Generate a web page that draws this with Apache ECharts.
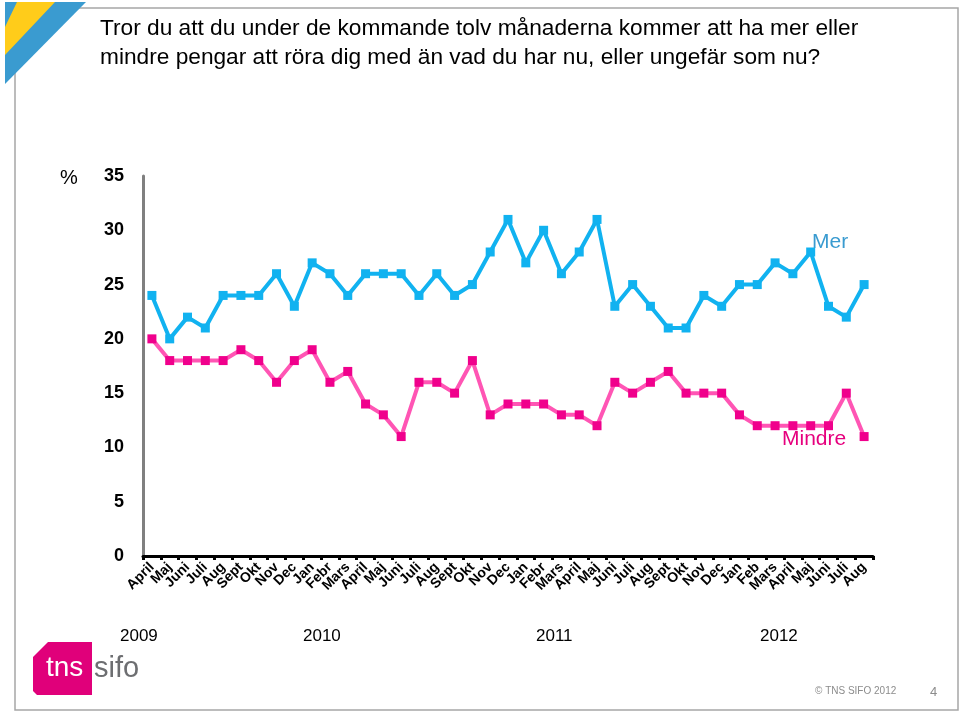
<!DOCTYPE html>
<html>
<head>
<meta charset="utf-8">
<script src="https://cdn.jsdelivr.net/npm/echarts@6/dist/echarts.min.js"></script>
<style>
  html, body { margin: 0; padding: 0; background: #fff; }
  #chart { width: 961px; height: 713px; }
</style>
</head>
<body>
<div id="chart"></div>
<script>
// months, April 2009 - Aug 2012
const months = [
  'April', 'Maj', 'Juni', 'Juli', 'Aug', 'Sept', 'Okt', 'Nov', 'Dec',
  'Jan', 'Febr', 'Mars', 'April', 'Maj', 'Juni', 'Juli', 'Aug', 'Sept', 'Okt', 'Nov', 'Dec',
  'Jan', 'Febr', 'Mars', 'April', 'Maj', 'Juni', 'Juli', 'Aug', 'Sept', 'Okt', 'Nov', 'Dec',
  'Jan', 'Feb', 'Mars', 'April', 'Maj', 'Juni', 'Juli', 'Aug'
]
const mer = [
  24, 20, 22, 21, 24, 24, 24, 26, 23,
  27, 26, 24, 26, 26, 26, 24, 26, 24, 25, 28, 31,
  27, 30, 26, 28, 31, 23, 25, 23, 21, 21, 24, 23,
  25, 25, 27, 26, 28, 23, 22, 25
]
const mindre = [
  20, 18, 18, 18, 18, 19, 18, 16, 18,
  19, 16, 17, 14, 13, 11, 16, 16, 15, 18, 13, 14,
  14, 14, 13, 13, 12, 16, 15, 16, 17, 15, 15, 15,
  13, 12, 12, 12, 12, 12, 15, 11
]
const years = ['2009', '2010', '2011', '2012']
const yearX = [140, 323, 556, 780]

const title = [
  'Tror du att du under de kommande tolv månaderna kommer att ha mer eller',
  'mindre pengar att röra dig med än vad du har nu, eller ungefär som nu?'
]

const FONT = '"Liberation Sans", Arial, sans-serif'

const chart = echarts.init(document.getElementById('chart'))

const graphic = [
  // slide frame
  { type: 'rect', shape: { x: 15, y: 8, width: 943, height: 702 },
    style: { fill: 'none', stroke: '#a6a6a6', lineWidth: 1.5 }, z: 0 },
  // corner stripes
  { type: 'polygon', shape: { points: [[5, 2], [86, 2], [5, 84]] }, style: { fill: '#3a9bd0' }, z: 5 },
  { type: 'polygon', shape: { points: [[17, 2], [55, 2], [5, 55], [5, 27]] }, style: { fill: '#ffcc1a' }, z: 6 },
  // title
  { type: 'text', left: 100, top: 14,
    style: { text: title.join('\n'), font: '22.7px ' + FONT, fill: '#000', lineHeight: 29 } },
  // unit
  { type: 'text', left: 60, top: 168, style: { text: '%', font: '20px ' + FONT, fill: '#000' } },
  // series names
  { type: 'text', left: 812, top: 232, style: { text: 'Mer', font: '21px ' + FONT, fill: '#3a9bd0' } },
  { type: 'text', left: 782, top: 429, style: { text: 'Mindre', font: '21px ' + FONT, fill: '#e6007e' } },
  // logo
  { type: 'polygon', shape: { points: [[48, 642], [92, 642], [92, 695], [37, 695], [33, 691], [33, 657]] },
    style: { fill: '#e0007a' } },
  { type: 'text', left: 46, top: 654, style: { text: 'tns', font: '28px ' + FONT, fill: '#fff' } },
  { type: 'text', left: 94, top: 654, style: { text: 'sifo', font: '29px ' + FONT, fill: '#6d6e71' } },
  // footer
  { type: 'text', left: 815, top: 686, style: { text: '© TNS SIFO 2012', font: '10px ' + FONT, fill: '#8c8c8c' } },
  { type: 'text', left: 930, top: 686, style: { text: '4', font: '13px ' + FONT, fill: '#8c8c8c' } }
]
years.forEach((y, i) => {
  graphic.push({ type: 'text', left: yearX[i] - 20, top: 628,
    style: { text: y, font: '17px ' + FONT, fill: '#000' } })
})

chart.setOption({
  animation: false,
  backgroundColor: '#fff',
  grid: { left: 143, top: 176, width: 730, height: 380 },
  xAxis: {
    type: 'category',
    data: months,
    boundaryGap: true,
    axisLine: { lineStyle: { color: '#000', width: 3 } },
    axisTick: { show: true, length: 4, lineStyle: { color: '#000', width: 3 } },
    axisLabel: {
      interval: 0, rotate: 45, margin: 9,
      fontFamily: FONT, fontSize: 14, fontWeight: 'bold', color: '#000'
    }
  },
  yAxis: {
    type: 'value',
    min: 0, max: 35, interval: 5,
    axisLine: { show: true, lineStyle: { color: '#808080', width: 3 } },
    axisTick: { show: false },
    splitLine: { show: false },
    axisLabel: {
      margin: 19, fontFamily: FONT, fontSize: 18, fontWeight: 'bold', color: '#000'
    }
  },
  series: [
    {
      name: 'Mer', type: 'line', data: mer,
      symbol: 'rect', symbolSize: 9,
      lineStyle: { color: '#11b2f0', width: 4 },
      itemStyle: { color: '#11b2f0' }
    },
    {
      name: 'Mindre', type: 'line', data: mindre,
      symbol: 'rect', symbolSize: 9,
      lineStyle: { color: '#ff55b4', width: 4 },
      itemStyle: { color: '#f0008c' }
    }
  ],
  graphic
})
</script>
</body>
</html>
